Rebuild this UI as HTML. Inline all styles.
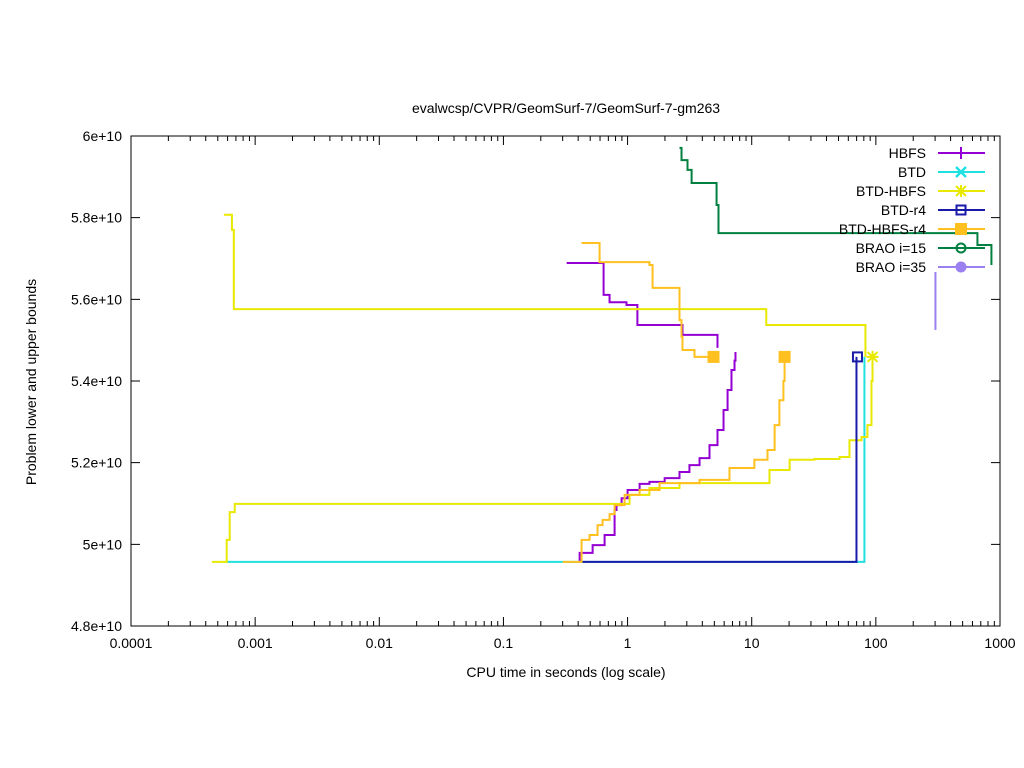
<!DOCTYPE html>
<html><head><meta charset="utf-8"><style>
html,body{margin:0;padding:0;background:#fff;}
svg{display:block;font-family:"Liberation Sans",sans-serif;}
</style></head><body>
<svg id="chart" width="1024" height="768" viewBox="0 0 1024 768" xmlns="http://www.w3.org/2000/svg">
<rect x="0" y="0" width="1024" height="768" fill="#fff"/>
<text x="566" y="113" font-size="14" text-anchor="middle">evalwcsp/CVPR/GeomSurf-7/GeomSurf-7-gm263</text>
<text x="566" y="677" font-size="14" text-anchor="middle">CPU time in seconds (log scale)</text>
<text x="36" y="382" font-size="14" text-anchor="middle" transform="rotate(-90 36 382)">Problem lower and upper bounds</text>
<g id="axes"></g>
<g id="series"></g>
<g id="legend"></g>
<rect x="131" y="136" width="869" height="490" fill="none" stroke="#000" stroke-width="1"/>
</svg>
<script>
const xTicks=[0.0001,0.001,0.01,0.1,1,10,100,1000];
const xTickLabels=["0.0001","0.001","0.01","0.1","1","10","100","1000"];
const yTicks=[4.8,5.0,5.2,5.4,5.6,5.8,6.0];
const yTickLabels=["4.8e+10","5e+10","5.2e+10","5.4e+10","5.6e+10","5.8e+10","6e+10"];

const hbfsUpperT=[0.323,0.641,0.716,0.98,1.20,2.77,5.3];
const hbfsUpperV=[5.689,5.611,5.593,5.586,5.537,5.513,5.481];
const hbfsLowerT=[0.411,0.411,0.523,0.653,0.786,0.815,0.895,1.0,1.25,1.50,1.99,2.62,3.15,3.80,4.57,5.3,5.93,6.39,6.87,7.27,7.4];
const hbfsLowerV=[4.957,4.979,4.998,5.023,5.084,5.096,5.113,5.133,5.148,5.153,5.162,5.177,5.194,5.211,5.243,5.280,5.329,5.378,5.427,5.450,5.471];

const btdLowerT=[0.00059,80.9,80.9];
const btdLowerV=[4.957,4.957,5.459];

const bhUpperT=[0.00056,0.00065,0.000673,12.9,13.1,82.4,82.4];
const bhUpperV=[5.807,5.770,5.576,5.576,5.537,5.537,5.459];
const bhLowerT=[0.000448,0.00059,0.000624,0.000685,0.786,1.038,1.50,2.62,12.9,13.9,20.2,32,51,55.8,61.3,76.6,85.5,92.2,94];
const bhLowerV=[4.957,5.011,5.079,5.099,5.099,5.121,5.138,5.150,5.150,5.182,5.207,5.209,5.214,5.214,5.255,5.263,5.292,5.400,5.459];

const r4LowerT=[0.426,69.8,69.8];
const r4LowerV=[4.957,4.957,5.459];

const bhr4UpperT=[0.426,0.595,1.50,1.59,2.62,2.72,2.77,3.15,3.46,4.92];
const bhr4UpperV=[5.738,5.691,5.684,5.628,5.549,5.508,5.476,5.476,5.459,5.459];
const bhr4LowerT=[0.30,0.426,0.494,0.573,0.629,0.716,0.786,0.946,1.25,1.81,3.80,6.62,10.5,13.4,15.3,16.7,18.0,18.4];
const bhr4LowerV=[4.957,5.011,5.023,5.047,5.060,5.074,5.096,5.121,5.133,5.150,5.158,5.187,5.207,5.231,5.292,5.353,5.400,5.459];

const brao15T=[2.62,2.72,3.04,3.28,5.21,5.40,658,822,853];
const brao15V=[5.971,5.941,5.917,5.885,5.831,5.762,5.733,5.733,5.684];
const brao35T=[302,302];
const brao35V=[5.667,5.525];

const L=131,R=1000,T=136,B=626;
const xLogMin=-4,xLogMax=3,yMin=4.8,yMax=6.0;
function xs(t){return L+(Math.log10(t)-xLogMin)/(xLogMax-xLogMin)*(R-L);}
function ys(v){return B-(v-yMin)/(yMax-yMin)*(B-T);}
const NS="http://www.w3.org/2000/svg";
function mk(tag,attrs,parent){const e=document.createElementNS(NS,tag);for(const k in attrs)e.setAttribute(k,attrs[k]);parent.appendChild(e);return e;}

const axes=document.getElementById('axes');
xTicks.forEach((t,i)=>{
  const x=xs(t);
  const tk=mk('path',{d:`M${x},${B}v-9M${x},${T}v9`,stroke:'#000','stroke-width':1},axes);
  
  
  const lb=mk('text',{x:x,y:B+22,'font-size':14,'text-anchor':'middle'},axes);
  lb.textContent=xTickLabels[i];
  
  
  if(i<xTicks.length-1){
    for(let m=2;m<=9;m++){
      const mx=xs(t*m);
      const mt=mk('path',{d:`M${mx},${B}v-5M${mx},${T}v5`,stroke:'#000','stroke-width':1},axes);
      
      
    }
  }
});
yTicks.forEach((v,i)=>{
  const y=ys(v);
  const tk=mk('path',{d:`M${L},${y}h9M${R},${y}h-9`,stroke:'#000','stroke-width':1},axes);
  
  
  const lb=mk('text',{x:L-9,y:y+5,'font-size':14,'text-anchor':'end'},axes);
  lb.textContent=yTickLabels[i];
  
  
});

const sg=document.getElementById('series');
function stepPath(ts,vs){
  let d=`M${xs(ts[0])},${ys(vs[0])}`;
  for(let i=1;i<ts.length;i++){d+=`H${xs(ts[i])}V${ys(vs[i])}`;}
  return d;
}
function drawLine(ts,vs,color,name){
  const p=mk('path',{d:stepPath(ts,vs),fill:'none',stroke:color,'stroke-width':2},sg);
  
  
}
const C={hbfs:'#9400d3',btd:'#20e0e0',bh:'#e8e800',r4:'#1a1aa8',bhr4:'#ffc020',b15:'#008040',b35:'#9a80f0'};
drawLine(hbfsUpperT,hbfsUpperV,C.hbfs,'hbfs-upper-line');
drawLine(hbfsLowerT,hbfsLowerV,C.hbfs,'hbfs-lower-line');
drawLine(btdLowerT,btdLowerV,C.btd,'btd-lower-line');
drawLine(bhUpperT,bhUpperV,C.bh,'btd-hbfs-upper-line');
drawLine(bhLowerT,bhLowerV,C.bh,'btd-hbfs-lower-line');
drawLine(r4LowerT,r4LowerV,C.r4,'btd-r4-lower-line');
drawLine(bhr4UpperT,bhr4UpperV,C.bhr4,'btd-hbfs-r4-upper-line');
drawLine(bhr4LowerT,bhr4LowerV,C.bhr4,'btd-hbfs-r4-lower-line');
drawLine(brao15T,brao15V,C.b15,'brao-15-line');
drawLine(brao35T,brao35V,C.b35,'brao-35-line');

function marker(type,x,y,color,parent,name){
  let e;
  if(type==='plus')e=mk('path',{d:`M${x-6},${y}h12M${x},${y-6}v12`,stroke:color,'stroke-width':2,fill:'none'},parent);
  else if(type==='x')e=mk('path',{d:`M${x-5},${y-5}l10,10M${x-5},${y+5}l10,-10`,stroke:color,'stroke-width':2.5,fill:'none'},parent);
  else if(type==='star')e=mk('path',{d:`M${x-6},${y}h12M${x},${y-6}v12M${x-5},${y-5}l10,10M${x-5},${y+5}l10,-10`,stroke:color,'stroke-width':2,fill:'none'},parent);
  else if(type==='osq')e=mk('rect',{x:x-4.5,y:y-4.5,width:9,height:9,stroke:color,'stroke-width':2,fill:'none'},parent);
  else if(type==='fsq')e=mk('rect',{x:x-6,y:y-6,width:12,height:12,fill:color},parent);
  else if(type==='oc')e=mk('circle',{cx:x,cy:y,r:4.5,stroke:color,'stroke-width':2,fill:'none'},parent);
  else e=mk('circle',{cx:x,cy:y,r:5.5,fill:color},parent);
  
  
}
marker('fsq',xs(bhr4UpperT[bhr4UpperT.length-1]),ys(bhr4UpperV[bhr4UpperV.length-1]),C.bhr4,sg,'btd-hbfs-r4-marker');
marker('fsq',xs(bhr4LowerT[bhr4LowerT.length-1]),ys(bhr4LowerV[bhr4LowerV.length-1]),C.bhr4,sg,'btd-hbfs-r4-marker');
marker('osq',xs(r4LowerT[r4LowerT.length-1])+1,ys(r4LowerV[r4LowerV.length-1]),C.r4,sg,'btd-r4-marker');
marker('star',xs(bhLowerT[bhLowerT.length-1]),ys(bhLowerV[bhLowerV.length-1]),C.bh,sg,'btd-hbfs-marker');

const legendNames=["HBFS","BTD","BTD-HBFS","BTD-r4","BTD-HBFS-r4","BRAO i=15","BRAO i=35"];
const legendColors=[C.hbfs,C.btd,C.bh,C.r4,C.bhr4,C.b15,C.b35];
const legendMarks=['plus','x','star','osq','fsq','oc','fc'];
const lg=document.getElementById('legend');
legendNames.forEach((n,i)=>{
  const y=153+i*19;
  const t=mk('text',{x:926,y:y+5,'font-size':14,'text-anchor':'end'},lg);
  t.textContent=n;
  
  
  const l=mk('path',{d:`M938,${y}H985`,stroke:legendColors[i],'stroke-width':2},lg);
  
  
  marker(legendMarks[i],961,y,legendColors[i],lg,'legend-marker');
});
</script>
</body></html>
